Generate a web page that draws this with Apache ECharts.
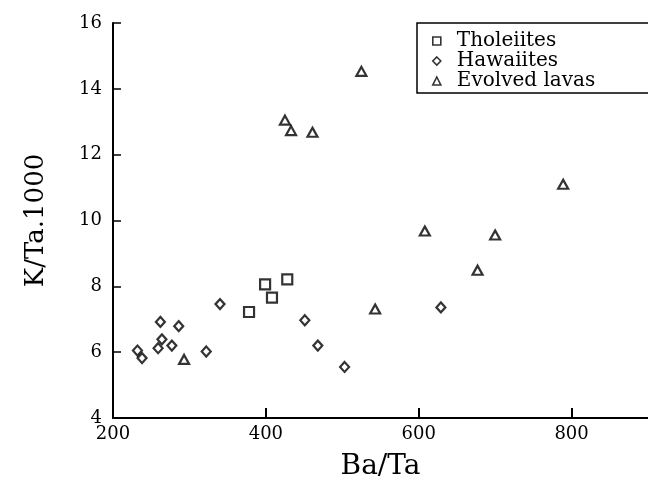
<!DOCTYPE html>
<html lang="en">
<head>
    <meta charset="UTF-8">
    <title>K/Ta vs Ba/Ta</title>
    <style>
        html, body { margin: 0; padding: 0; background: #fff; }
        #main { width: 648px; height: 486px; }
    </style>
</head>
<body>
<div id="main"></div>

<script src="https://cdn.jsdelivr.net/npm/echarts@6/dist/echarts.min.js"></script>
<script type="text/javascript">
    // data: [Ba/Ta, K/Ta.1000]
    var tholeiites = [
        [399, 8.06], [428, 8.21], [408, 7.66], [378, 7.22]
    ];
    var hawaiites = [
        [232, 6.05], [238, 5.82], [259, 6.12], [264, 6.39], [262, 6.92],
        [277, 6.20], [286, 6.79], [322, 6.02], [340, 7.46], [451, 6.97],
        [468, 6.20], [503, 5.55], [629, 7.36]
    ];
    var evolved = [
        [293, 5.78], [425, 13.05], [433, 12.73], [461, 12.68], [525, 14.53],
        [543, 7.31], [608, 9.68], [677, 8.49], [700, 9.56], [789, 11.10]
    ];
    var seriesNames = ['Tholeiites', 'Hawaiites', 'Evolved lavas'];

    var serif = 'DejaVu Serif';
    var myChart = echarts.init(document.getElementById('main'));

    var markerStyle = {
        color: '#fff',
        borderColor: '#000',
        borderWidth: 2.2
    };

    var option = {
        animation: false,
        backgroundColor: '#fff',
        grid: {
            left: 113,
            top: 23,
            width: 537,
            height: 404
        },
        legend: {
            orient: 'vertical',
            left: 417,
            top: 23,
            padding: [8, 200, 2, 15],
            itemGap: 0,
            itemWidth: 8,
            itemHeight: 8,
            borderColor: '#000',
            borderWidth: 1.5,
            itemStyle: {borderWidth: 1.6},
            textStyle: {
                fontFamily: serif,
                fontSize: 20,
                lineHeight: 19,
                color: '#000',
                padding: [0, 0, 0, 11]
            },
            data: seriesNames
        },
        xAxis: {
            type: 'value',
            min: 200,
            max: 900,
            interval: 200,
            name: 'Ba/Ta',
            nameLocation: 'middle',
            nameGap: 35,
            nameTextStyle: {fontFamily: serif, fontSize: 28, color: '#000'},
            axisLine: {lineStyle: {color: '#000', width: 2}},
            axisTick: {inside: true, length: 10, lineStyle: {color: '#000', width: 2}},
            axisLabel: {
                fontFamily: serif, fontSize: 18, color: '#000',
                margin: 7, showMaxLabel: false
            },
            splitLine: {show: false}
        },
        yAxis: {
            type: 'value',
            min: 4,
            max: 16,
            interval: 2,
            name: 'K/Ta.1000',
            nameLocation: 'middle',
            nameGap: 64,
            nameTextStyle: {fontFamily: serif, fontSize: 26, color: '#000'},
            axisLine: {show: true, lineStyle: {color: '#000', width: 2}},
            axisTick: {show: true, inside: true, length: 8, lineStyle: {color: '#000', width: 1.5}},
            axisLabel: {fontFamily: serif, fontSize: 18, color: '#000', margin: 11},
            splitLine: {show: false}
        },
        series: [
            {
                name: seriesNames[0],
                type: 'scatter',
                symbol: 'rect',
                symbolSize: 10,
                itemStyle: markerStyle,
                data: tholeiites
            },
            {
                name: seriesNames[1],
                type: 'scatter',
                symbol: 'diamond',
                symbolSize: [9, 10],
                itemStyle: markerStyle,
                data: hawaiites
            },
            {
                name: seriesNames[2],
                type: 'scatter',
                symbol: 'triangle',
                symbolSize: [10, 9],
                itemStyle: markerStyle,
                data: evolved
            }
        ]
    };

    myChart.setOption(option);
</script>
</body>
</html>
